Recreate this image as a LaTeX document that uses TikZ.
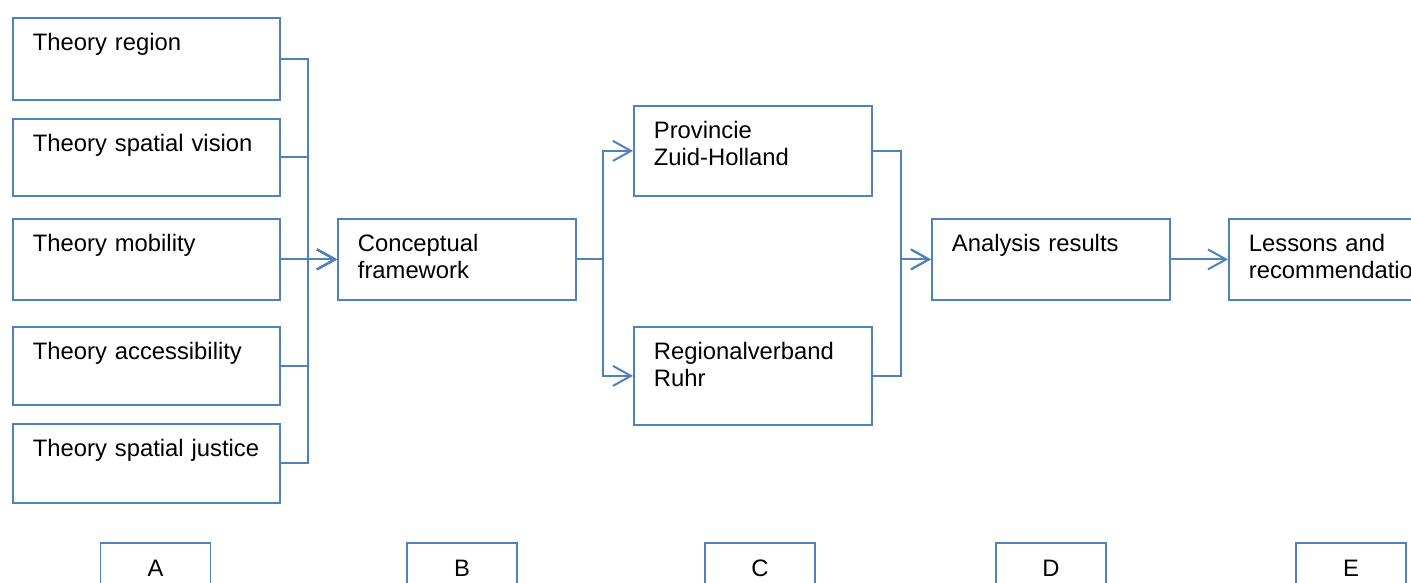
\documentclass[tikz,border=0pt]{standalone}
\usepackage{fontspec}
\setmainfont{Liberation Sans}
\usetikzlibrary{arrows.meta}
\definecolor{linkblue}{RGB}{79,129,189}

\begin{document}
\begin{tikzpicture}[x=1pt,y=-1pt,font=\fontsize{23.8}{27}\selectfont,
box/.style={draw=linkblue,line width=1.8pt,anchor=north west,align=left,inner xsep=20pt,inner ysep=0pt,text height=32.5pt},
letter/.style={draw=linkblue,line width=1.8pt,anchor=north,minimum width=110pt,minimum height=50pt,inner sep=0pt},
link/.style={color=linkblue,line width=2pt,-{Straight Barb[length=18pt,width=20pt]}}]

\useasboundingbox (0,0) rectangle (1411,583);
\clip (0,0) rectangle (1411,583);

\foreach \i/\y/\d/\txt in {1/17/49.5/Theory region,2/118/44.5/Theory spatial vision,3/218/48.5/Theory mobility,4/326/45.5/Theory accessibility,5/423/46.5/Theory spatial justice}
{
\node[box,text width=227pt,text depth=\d pt] (t\i) at (12,\y) {\txt};
}

\node[box,text width=198pt,text depth=48.5pt] (cf) at (337,218) {Conceptual\\framework};
\node[box,text width=198pt,text depth=57.5pt] (pzh) at (633,105) {Provincie\\Zuid-Holland};
\node[box,text width=198pt,text depth=65.5pt] (rvr) at (633,326) {Regionalverband\\Ruhr};
\node[box,text width=198pt,text depth=48.5pt] (ar) at (931,218) {Analysis results};
\node[box,text width=198pt,text depth=48.5pt] (lr) at (1228,218) {Lessons and\\recommendations};

\coordinate (busA) at (308,0);
\coordinate (busB) at (603,0);
\coordinate (busC) at (901,0);

\foreach \i in {1,...,5}
{
\draw[link] (t\i.east) -| (busA |- cf.west) -- (cf.west);
}
\draw[link] (cf.east) -| (busB |- pzh.west) -- (pzh.west);
\draw[link] (cf.east) -| (busB |- rvr.west) -- (rvr.west);
\draw[link] (pzh.east) -| (busC |- ar.west) -- (ar.west);
\draw[link] (rvr.east) -| (busC |- ar.west) -- (ar.west);
\draw[link] (ar.east) -- (lr.west);

\foreach \l/\x in {A/155.5,B/462,C/760,D/1051,E/1351}
{
\node[letter] (\l) at (\x,542) {\l};
}
\end{tikzpicture}
\end{document}
